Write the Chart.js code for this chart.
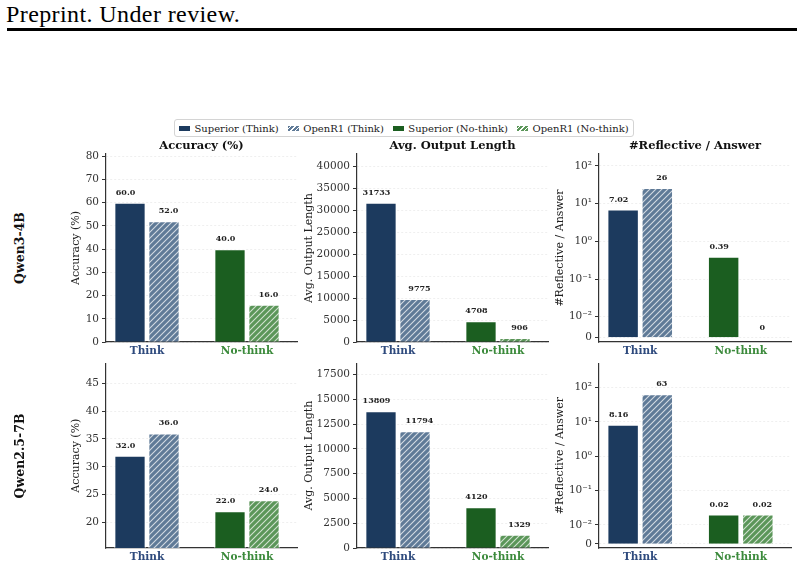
<!DOCTYPE html>
<html>
<head>
<meta charset="utf-8">
<script src="https://cdn.jsdelivr.net/npm/chart.js@4.4.1/dist/chart.umd.min.js"></script>
<style>
    html, body { margin: 0; padding: 0; background: #fff; }
    body { width: 804px; height: 567px; position: relative; overflow: hidden; font-family: "DejaVu Serif", serif; }
    .hdr { position: absolute; left: 6px; top: 2px; font: 24px/24px "Liberation Serif", serif; letter-spacing: 0.4px; color: #000; }
    .rule { position: absolute; left: 7px; top: 28px; width: 790px; height: 3px; background: #000; }
    .legend { position: absolute; left: 174px; top: 119px; height: 18px; box-sizing: border-box;
              border: 1px solid #d4d4d4; border-radius: 3px; display: flex; align-items: center;
              padding: 0 4px 0 4px; font-size: 10px; color: #222; white-space: nowrap; }
    .legend .sw { display: inline-block; width: 11px; height: 5px; margin-right: 4.5px; }
    .legend .it { display: flex; align-items: center; margin-right: 9px; }
    .legend .it:last-child { margin-right: 0; }
    .rowlab { position: absolute; transform: translate(-50%, -50%) rotate(-90deg);
              font-weight: bold; font-size: 12.5px; color: #111; white-space: nowrap; }
    canvas { position: absolute; }
</style>
</head>
<body>
<div class="hdr">Preprint. Under review.</div>
<div class="rule"></div>
<div class="legend" id="legend"></div>
<script>
/*
  Superior vs OpenR1 : Think / No-think
  3 metrics x 2 models, one canvas per panel
*/

// ---------- data ----------
const categories = ["Think", "No-think"];
const seriesNames = ["Superior", "OpenR1"];
const modelNames = ["Qwen3-4B", "Qwen2.5-7B"];
const metricTitles = ["Accuracy (%)", "Avg. Output Length", "#Reflective / Answer"];

// values ordered [Think, No-think]
const qwen3AccSuperior = [60.0, 40.0];
const qwen3AccOpenR1 = [52.0, 16.0];
const qwen3LenSuperior = [31733, 4708];
const qwen3LenOpenR1 = [9775, 906];
const qwen3RefSuperior = [7.02, 0.39];
const qwen3RefOpenR1 = [26, 0];

const qwen25AccSuperior = [32.0, 22.0];
const qwen25AccOpenR1 = [36.0, 24.0];
const qwen25LenSuperior = [13809, 4120];
const qwen25LenOpenR1 = [11794, 1329];
const qwen25RefSuperior = [8.16, 0.02];
const qwen25RefOpenR1 = [63, 0.02];

// tick labels
const qwen3AccTicks = [0, 10, 20, 30, 40, 50, 60, 70, 80];
const qwen25AccTicks = [20, 25, 30, 35, 40, 45];
const qwen3LenTicks = [0, 5000, 10000, 15000, 20000, 25000, 30000, 35000, 40000];
const qwen25LenTicks = [0, 2500, 5000, 7500, 10000, 12500, 15000, 17500];
const refTicks = [0, 0.01, 0.1, 1, 10, 100];
const refTickLabels = ["0", "10\u207B\u00B2", "10\u207B\u00B9", "10\u2070", "10\u00B9", "10\u00B2"];

// ---------- style ----------
const NAVY = "#1c3a5e";
const SLATE = "#5f7a97";
const GREEN = "#1b5e20";
const LGREEN = "#5b9659";
const THINK_TXT = "#2e4a7d";
const NOTHINK_TXT = "#3b8a3b";

const COL_LEFT = [106, 357, 599];
const COL_WIDTH = [191, 191, 192];
const YTITLE_OFF = [30, 48, 39];

Chart.defaults.font.family = '"DejaVu Serif", serif';
Chart.defaults.color = "#333";

// ---------- symlog scale (linthresh 0.01, linscale 0.5) ----------
const LINTHRESH = 0.01;
const LINADJ = 0.5 / (1 - 1 / 10);

function symlog(v) {
    const a = Math.abs(v);
    const t = a <= LINTHRESH ? a / LINTHRESH * LINADJ : LINADJ + Math.log10(a / LINTHRESH);
    return Math.sign(v) * t;
}

function symlogInv(t) {
    const a = Math.abs(t);
    const v = a <= LINADJ ? a / LINADJ * LINTHRESH : LINTHRESH * Math.pow(10, a - LINADJ);
    return Math.sign(t) * v;
}

class SymlogScale extends Chart.Scale {
    static id = "symlog";
    static defaults = {};

    determineDataLimits() {
        this.min = this.options.min;
        this.max = this.options.max;
    }

    buildTicks() {
        return [];
    }

    configure() {
        super.configure();
        this._t0 = symlog(this.min);
        this._t1 = symlog(this.max);
    }

    getLabelForValue(v) {
        return String(v);
    }

    getPixelForValue(v) {
        return this.getPixelForDecimal((symlog(v) - this._t0) / (this._t1 - this._t0));
    }

    getValueForPixel(p) {
        return symlogInv(this._t0 + this.getDecimalForPixel(p) * (this._t1 - this._t0));
    }
}

Chart.register(SymlogScale);

// ---------- helpers ----------
function hatchTile(base) {
    const t = document.createElement("canvas");
    t.width = 6;
    t.height = 6;
    const g = t.getContext("2d");
    g.fillStyle = base;
    g.fillRect(0, 0, 6, 6);
    g.strokeStyle = "rgba(255,255,255,0.72)";
    g.lineWidth = 1.1;
    g.beginPath();
    g.moveTo(0, 6); g.lineTo(6, 0);
    g.moveTo(-1, 1); g.lineTo(1, -1);
    g.moveTo(5, 7); g.lineTo(7, 5);
    g.stroke();
    return t;
}

const slateTile = hatchTile(SLATE);
const lgreenTile = hatchTile(LGREEN);

function valueLabels(fmt) {
    return {
        id: "valueLabels",
        afterDatasetsDraw(chart) {
            const ctx = chart.ctx;
            ctx.save();
            ctx.font = 'bold 8px "DejaVu Serif"';
            ctx.fillStyle = "#222";
            ctx.textAlign = "center";
            ctx.textBaseline = "middle";
            chart.data.datasets.forEach((ds, i) => {
                chart.getDatasetMeta(i).data.forEach((bar, j) => {
                    ctx.fillText(fmt(ds.data[j].y), bar.x + (i === 0 ? -4.5 : 4.5), bar.y - 10);
                });
            });
            ctx.restore();
        }
    };
}

const fmtAcc = v => v.toFixed(1);
const fmtLen = v => String(Math.round(v));
const fmtRef = v => v === 0 ? "0" : v >= 10 ? String(Math.round(v)) : v.toFixed(2);

// ---------- panels ----------
const panels = [
    { row: 0, col: 0, sup: qwen3AccSuperior, opr: qwen3AccOpenR1, ticks: qwen3AccTicks, fmt: fmtAcc, type: "linear", min: 0 },
    { row: 0, col: 1, sup: qwen3LenSuperior, opr: qwen3LenOpenR1, ticks: qwen3LenTicks, fmt: fmtLen, type: "linear", min: 0 },
    { row: 0, col: 2, sup: qwen3RefSuperior, opr: qwen3RefOpenR1, ticks: refTicks, fmt: fmtRef, type: "symlog", min: -0.0021 },
    { row: 1, col: 0, sup: qwen25AccSuperior, opr: qwen25AccOpenR1, ticks: qwen25AccTicks, fmt: fmtAcc, type: "linear", min: null },
    { row: 1, col: 1, sup: qwen25LenSuperior, opr: qwen25LenOpenR1, ticks: qwen25LenTicks, fmt: fmtLen, type: "linear", min: 0 },
    { row: 1, col: 2, sup: qwen25RefSuperior, opr: qwen25RefOpenR1, ticks: refTicks, fmt: fmtRef, type: "symlog", min: -0.0021 }
];

function addCanvas(left, top, width, height) {
    const cv = document.createElement("canvas");
    cv.width = width;
    cv.height = height;
    cv.style.left = left + "px";
    cv.style.top = top + "px";
    cv.style.width = width + "px";
    cv.style.height = height + "px";
    document.body.appendChild(cv);
    return cv;
}

panels.forEach(p => {

    const c = p.col;
    const r = p.row;
    const left = COL_LEFT[c] - 70;
    const width = 70 + COL_WIDTH[c] + 8;
    const top = r === 0 ? 136 : 354;
    const height = r === 0 ? 224 : 212;

    const cv = addCanvas(left, top, width, height);
    const ctx = cv.getContext("2d");

    const all = p.sup.concat(p.opr);
    const hi = Math.max(...all);
    const yMax = p.type === "symlog" ? hi * 8 : hi * 1.35;
    const yMin = p.min === null ? Math.min(...all) * 0.7 : p.min;

    new Chart(ctx, {

        type: "bar",

        data: {
            datasets: [
                {
                    label: seriesNames[0],
                    data: p.sup.map((v, i) => ({ x: i, y: v })),
                    backgroundColor: [NAVY, GREEN],
                    borderColor: "#ffffff",
                    borderWidth: 1,
                    categoryPercentage: 0.68,
                    barPercentage: 0.92
                },
                {
                    label: seriesNames[1],
                    data: p.opr.map((v, i) => ({ x: i, y: v })),
                    backgroundColor: [
                        ctx.createPattern(slateTile, "repeat"),
                        ctx.createPattern(lgreenTile, "repeat")
                    ],
                    borderColor: "#ffffff",
                    borderWidth: 1,
                    categoryPercentage: 0.68,
                    barPercentage: 0.92
                }
            ]
        },

        options: {
            responsive: false,
            animation: false,
            devicePixelRatio: 1,
            layout: { padding: { top: r === 0 ? 0 : 8, right: 8, bottom: 0, left: 0 } },
            plugins: {
                legend: { display: false },
                tooltip: { enabled: false },
                title: {
                    display: r === 0,
                    text: metricTitles[c],
                    fullSize: false,
                    color: "#111",
                    font: { size: 11.5, weight: "bold" },
                    padding: { top: 3.5, bottom: 0.7 }
                }
            },
            scales: {
                x: {
                    type: "linear",
                    min: -0.41,
                    max: 1.5,
                    offset: false,
                    afterBuildTicks: s => { s.ticks = categories.map((_, i) => ({ value: i })); },
                    afterFit: s => { s.height = 18; },
                    grid: { display: false, drawTicks: false },
                    border: { color: "#333", width: 1.2 },
                    ticks: {
                        padding: 3,
                        autoSkip: false,
                        maxRotation: 0,
                        font: { size: 10.5, weight: "bold" },
                        color: t => t.index === 0 ? THINK_TXT : NOTHINK_TXT,
                        callback: v => categories[v]
                    }
                },
                y: {
                    type: p.type,
                    min: yMin,
                    max: yMax,
                    bounds: "data",
                    afterBuildTicks: s => { s.ticks = p.ticks.map(v => ({ value: v })); },
                    afterFit: s => { s.width = 70; },
                    grid: {
                        color: "rgba(0,0,0,0.11)",
                        lineWidth: 0.6,
                        tickColor: "#333",
                        tickLength: 4,
                        tickWidth: 1
                    },
                    border: { color: "#333", width: 1.2, dash: [2, 2] },
                    title: {
                        display: true,
                        text: metricTitles[c],
                        color: "#222",
                        font: { size: 11 },
                        padding: { top: 70 - YTITLE_OFF[c] - 6.6, bottom: 0 }
                    },
                    ticks: {
                        padding: 3,
                        autoSkip: false,
                        color: "#333",
                        font: { size: 10.5 },
                        callback: v => p.type === "symlog" ? refTickLabels[refTicks.indexOf(v)] : String(v)
                    }
                }
            }
        },

        plugins: [valueLabels(p.fmt)]

    });

});

// ---------- row labels ----------
[248, 456].forEach((y, i) => {
    const d = document.createElement("div");
    d.className = "rowlab";
    d.style.left = "19px";
    d.style.top = y + "px";
    d.textContent = modelNames[i];
    document.body.appendChild(d);
});

// ---------- legend ----------
const stripe = base =>
    `repeating-linear-gradient(-45deg, ${base} 0px, ${base} 2.2px, rgba(255,255,255,0.75) 2.2px, rgba(255,255,255,0.75) 3.2px)`;

const legendItems = [
    { text: "Superior (Think)", bg: NAVY },
    { text: "OpenR1 (Think)", bg: stripe(SLATE) },
    { text: "Superior (No-think)", bg: GREEN },
    { text: "OpenR1 (No-think)", bg: stripe(LGREEN) }
];

const legend = document.getElementById("legend");
legendItems.forEach(item => {
    const it = document.createElement("span");
    it.className = "it";
    const sw = document.createElement("span");
    sw.className = "sw";
    sw.style.background = item.bg;
    it.appendChild(sw);
    it.appendChild(document.createTextNode(item.text));
    legend.appendChild(it);
});
</script>
</body>
</html>
